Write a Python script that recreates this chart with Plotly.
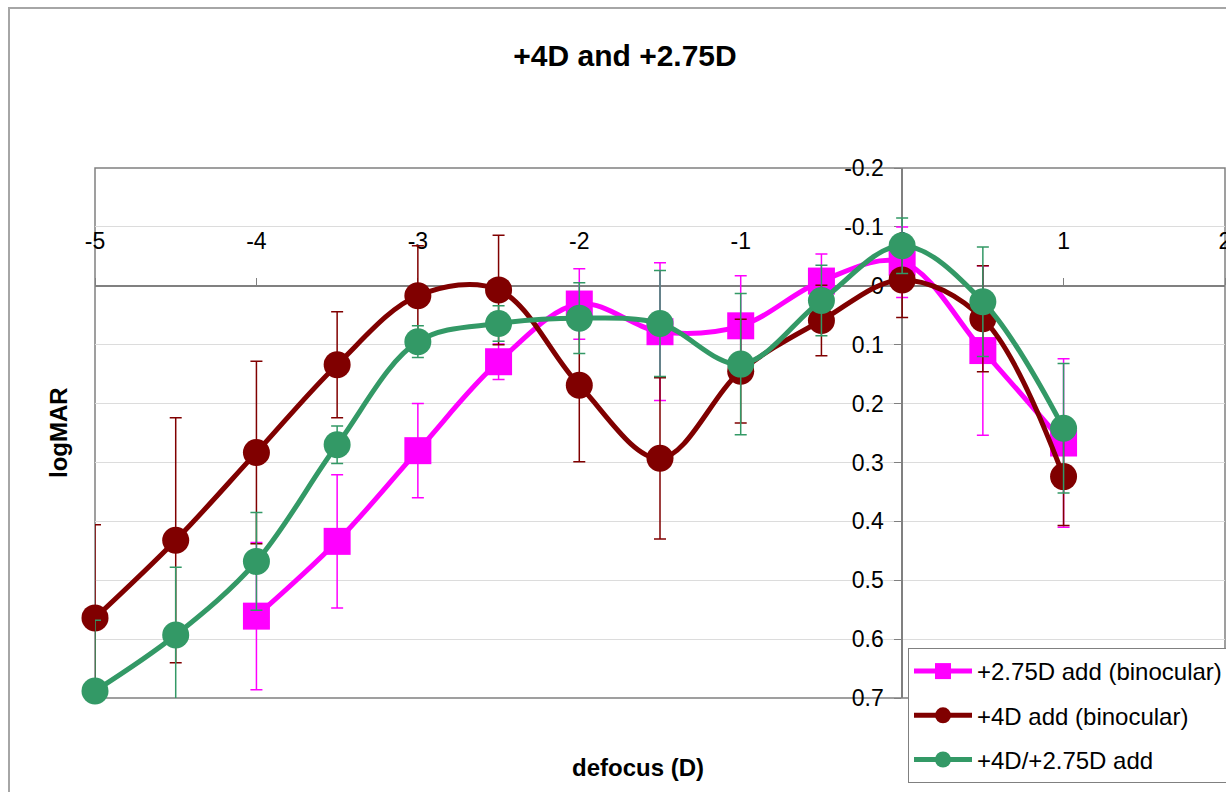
import plotly.graph_objects as go

# ---- data ----
defocus = [-5, -4.5, -4, -3.5, -3, -2.5, -2, -1.5, -1, -0.5, 0, 0.5, 1]
defocus_275 = [-4, -3.5, -3, -2.5, -2, -1.5, -1, -0.5, 0, 0.5, 1]

add275_bin = [0.561, 0.434, 0.280, 0.129, 0.031, 0.078, 0.068, -0.008, -0.040, 0.110, 0.267]
add275_bin_err = [0.125, 0.113, 0.080, 0.030, 0.060, 0.117, 0.085, 0.046, 0.060, 0.144, 0.143]

add4_bin = [0.564, 0.432, 0.283, 0.134, 0.017, 0.007, 0.169, 0.293, 0.145, 0.059, -0.010, 0.056, 0.324]
add4_bin_err = [0.158, 0.208, 0.155, 0.090, 0.085, 0.093, 0.130, 0.137, 0.088, 0.060, 0.064, 0.090, 0.083]

add4_275 = [0.688, 0.593, 0.468, 0.270, 0.095, 0.064, 0.055, 0.064, 0.133, 0.025, -0.068, 0.027, 0.242]
add4_275_err = [0.120, 0.115, 0.083, 0.032, 0.027, 0.030, 0.060, 0.090, 0.120, 0.060, 0.047, 0.093, 0.110]

series_names = ["+2.75D add (binocular)", "+4D add (binocular)", "+4D/+2.75D add"]

x_tick_vals = [-5, -4, -3, -2, -1, 0, 1, 2]
x_tick_text = ["-5", "-4", "-3", "-2", "-1", "0", "1", "2"]
y_tick_vals = [-0.2, -0.1, 0, 0.1, 0.2, 0.3, 0.4, 0.5, 0.6, 0.7]
y_tick_text = ["-0.2", "-0.1", "0", "0.1", "0.2", "0.3", "0.4", "0.5", "0.6", "0.7"]

FONT = "Liberation Sans, Arial, sans-serif"

series = [
    (defocus_275, add275_bin, add275_bin_err, series_names[0], "#FF00FF", "square", 27),
    (defocus, add4_bin, add4_bin_err, series_names[1], "#800000", "circle", 27),
    (defocus, add4_275, add4_275_err, series_names[2], "#339966", "circle", 27),
]

fig = go.Figure()
for i, (xs, ys, es, name, col, sym, sz) in enumerate(series):
    fig.add_trace(go.Scatter(
        x=xs, y=ys, name=name, mode="lines+markers",
        legendgroup=f"g{i}", cliponaxis=False,
        line=dict(color=col, width=5, shape="spline", smoothing=1),
        marker=dict(color=col, symbol=sym, size=sz, line=dict(width=0)),
        error_y=dict(type="data", array=es, visible=True, color=col,
                     thickness=1.5, width=6),
    ))

W, H = 1226, 792
ml, mr, mt, mb = 95, 1, 168, 94
pw = W - ml - mr
ph = H - mt - mb

xmin, xmax = -5, 2
ytop, ybot = -0.2, 0.7

fig.update_layout(
    width=W, height=H,
    margin=dict(l=ml, r=mr, t=mt, b=mb, autoexpand=False),
    paper_bgcolor="white", plot_bgcolor="white",
    font=dict(family=FONT, size=22, color="black"),
    title=dict(text="+4D and +2.75D", x=(625 - ml) / pw, xref="paper", xanchor="center",
               y=1 - 55 / H, yref="container", yanchor="middle",
               font=dict(family=FONT, size=30, color="black", weight="bold")),
    xaxis=dict(range=[xmin, xmax], anchor="free",
               position=(ybot - 0) / (ybot - ytop), side="top",
               tickmode="array", tickvals=x_tick_vals, ticktext=x_tick_text,
               ticks="outside", ticklen=7, tickcolor="#808080", tickwidth=1,
               ticklabelstandoff=20, ticklabeloverflow="allow",
               showline=True, linecolor="#808080", linewidth=1.5,
               showgrid=False, zeroline=False, layer="below traces",
               tickfont=dict(family=FONT, size=23, color="black")),
    yaxis=dict(range=[ybot, ytop], anchor="free",
               position=(0 - xmin) / (xmax - xmin), side="left",
               tickmode="array", tickvals=y_tick_vals, ticktext=y_tick_text,
               ticks="outside", ticklen=7, tickcolor="#808080", tickwidth=1,
               ticklabelstandoff=6, ticklabeloverflow="allow",
               showline=True, linecolor="#808080", linewidth=1.5,
               showgrid=True, gridcolor="#dcdcdc", gridwidth=1,
               zeroline=False, layer="below traces",
               tickfont=dict(family=FONT, size=23, color="black")),
    legend=dict(x=(908 - ml) / pw, y=(H - mb - 648) / ph, xanchor="left", yanchor="top",
                bgcolor="white", bordercolor="#808080", borderwidth=1,
                font=dict(family=FONT, size=24, color="black"),
                traceorder="grouped", tracegroupgap=10, itemwidth=58),
    annotations=[
        dict(text="defocus (D)", xref="paper", yref="paper",
             x=(638 - ml) / pw, y=(H - mb - 767) / ph, showarrow=False,
             xanchor="center", yanchor="middle",
             font=dict(family=FONT, size=24, color="black", weight="bold")),
        dict(text="logMAR", xref="paper", yref="paper",
             x=(58 - ml) / pw, y=(H - mb - 433) / ph, showarrow=False,
             textangle=-90, xanchor="center", yanchor="middle",
             font=dict(family=FONT, size=24, color="black", weight="bold")),
    ],
    shapes=[
        dict(type="rect", xref="paper", yref="paper", x0=0, x1=1, y0=0, y1=1,
             line=dict(color="#808080", width=1.5), layer="between"),
        dict(type="rect", xref="paper", yref="paper",
             x0=(9 - ml) / pw, x1=1.5, y0=-0.5, y1=(H - mb - 8) / ph,
             line=dict(color="#a6a6a6", width=2), layer="above"),
    ],
)

fig.write_html("out.html")
